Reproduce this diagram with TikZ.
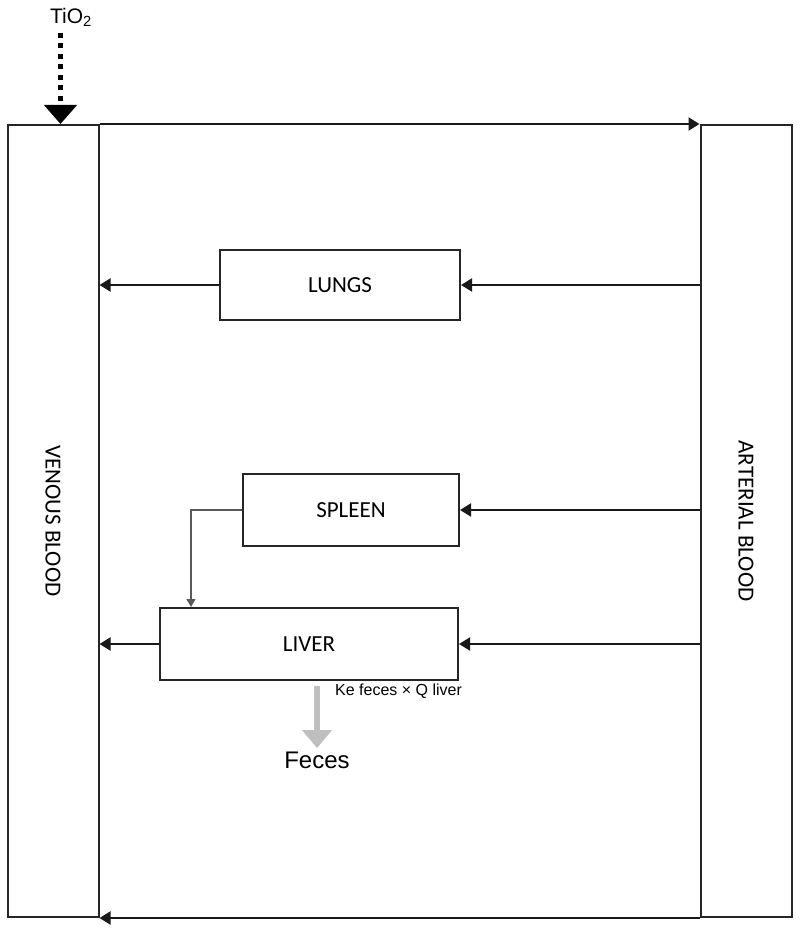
\documentclass[tikz,border=0pt]{standalone}
\usepackage{fontspec}
\setmainfont{Carlito}
\newfontfamily\arialfont{Liberation Sans}
\usepackage{tikz}
\usetikzlibrary{arrows.meta, positioning}
\tikzset{
    >={Triangle[length=11pt,width=13pt]},
    organ/.style={draw=black!85, line width=2pt, rectangle, font=\fontsize{23}{27}\selectfont},
    band/.style={draw=black!85, line width=2pt, rectangle, minimum width=91pt, minimum height=792pt},
    bandlabel/.style={rotate=-90, font=\fontsize{23}{27}\selectfont},
    flow/.style={->, line width=2pt, black!90},
}

\begin{document}
\begin{tikzpicture}[x=1pt, y=-1pt]
    \useasboundingbox (0,0) rectangle (800,933);
    % blood compartments
    \node[band] (ven) at (53,521) {};
    \node[band] (art) at (746,521) {};
    \node[bandlabel] (venlabel) at (ven.center) {VENOUS BLOOD};
    \node[bandlabel] (artlabel) at (art.center) {ARTERIAL BLOOD};
    % organs
    \node[organ, minimum width=240pt, minimum height=70pt] (lungs) at (340,285) {LUNGS};
    \node[organ, minimum width=216pt, minimum height=72pt] (spleen) at (351,510) {SPLEEN};
    \node[organ, minimum width=298pt, minimum height=72pt] (liver) at (309,644) {LIVER};
    % circulation
    \draw[flow] (ven.north east) -- (art.north west);
    \draw[flow] (art.south west) -- (ven.south east);
    \draw[flow] (lungs.east -| art.west) -- (lungs.east);
    \draw[flow] (lungs.west) -- (lungs.west -| ven.east);
    \draw[flow] (spleen.east -| art.west) -- (spleen.east);
    \draw[flow] (liver.east -| art.west) -- (liver.east);
    \draw[flow] (liver.west) -- (liver.west -| ven.east);
    \draw[->, >={Triangle[length=8pt,width=9pt]}, line width=1.3pt, black!65] (spleen.west) -| ([xshift=32pt]liver.north west);
    % dose
    \node[font=\arialfont\fontsize{21}{25}\selectfont] (tio2) at (71,17) {TiO\textsubscript{2}};
    \coordinate (tioend) at ([xshift=54pt]ven.north west);
    \draw[-{Triangle[length=19pt,width=32pt]}, line width=5pt, dash pattern=on 5pt off 5.5pt] ([yshift=-3pt]tio2.south -| tioend) -- (tioend);
    % elimination
    \node[font=\arialfont\fontsize{24}{28}\selectfont] (feces) at (317,760) {Feces};
    \draw[-{Triangle[length=18pt,width=29pt]}, line width=6pt, black!25] ([yshift=-5pt]liver.south -| feces) -- (feces.north);
    \node[anchor=west, font=\arialfont\fontsize{16}{19}\selectfont, inner sep=0pt] (kelabel) at ([xshift=26pt,yshift=-10pt]liver.south) {Ke feces × Q liver};
\end{tikzpicture}
\end{document}
